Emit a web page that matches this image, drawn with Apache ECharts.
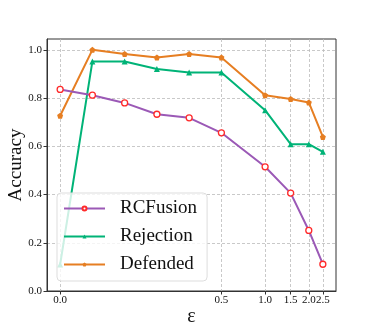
<!DOCTYPE html>
<html>
<head>
<meta charset="utf-8">
<script src="https://cdn.jsdelivr.net/npm/echarts@6/dist/echarts.min.js"></script>
<style>
    html, body { margin: 0; padding: 0; background: #fff; }
    #chart { width: 374px; height: 327px; }
</style>
</head>
<body>
<div id="chart"></div>
<script>
// 数据
var epsilons = [0, 0.1, 0.2, 0.3, 0.4, 0.5, 1.0, 1.5, 2.0, 2.5];
var rcfusion = [0.836, 0.812, 0.780, 0.733, 0.718, 0.656, 0.515, 0.406, 0.251, 0.111];
var rejection = [0.110, 0.952, 0.952, 0.921, 0.906, 0.906, 0.750, 0.609, 0.609, 0.577];
var defended = [0.727, 1.000, 0.983, 0.968, 0.983, 0.968, 0.812, 0.796, 0.782, 0.639];
var xTicks = [0, 0.5, 1.0, 1.5, 2.0, 2.5];
var yTicks = [0, 0.2, 0.4, 0.6, 0.8, 1.0];

// symlog 坐标 (linthresh 0.5, linscale 1)
var LT = 0.5, LS = 1 / (1 - 1 / 10);
function symlog(x) {
    if (x <= LT) return x * LS;
    return LT * (LS + Math.log10(x / LT));
}
function unsymlog(t) {
    if (t <= LT * LS + 1e-9) return t / LS;
    return LT * Math.pow(10, t / LT - LS);
}

function pairs(ys) {
    return ys.map(function (y, i) { return [symlog(epsilons[i]), y]; });
}

var serif = 'Liberation Serif';
var pentagon = 'path://M0,-1 L0.951,-0.309 L0.588,0.809 L-0.588,0.809 L-0.951,-0.309 Z';
var span = symlog(2.5);

var chart = echarts.init(document.getElementById('chart'));
chart.setOption({
    animation: false,
    grid: {
        left: 47, right: 38, top: 39, bottom: 36,
        containLabel: false, outerBoundsMode: 'none',
        show: true, borderColor: '#333', borderWidth: 1
    },
    xAxis: {
        type: 'value',
        min: -0.05 * span,
        max: span * 1.05,
        name: 'ε',
        nameLocation: 'middle',
        nameGap: 16,
        nameMoveOverlap: false,
        nameTextStyle: { fontFamily: serif, fontSize: 20, color: '#111' },
        axisLine: { onZero: false, lineStyle: { color: '#333', width: 1 } },
        axisTick: { show: true, length: 3.5, lineStyle: { color: '#333' }, customValues: xTicks.map(symlog) },
        axisLabel: {
            customValues: xTicks.map(symlog),
            fontFamily: serif, fontSize: 11, color: '#111', margin: 4,
            formatter: function (v) { return unsymlog(v).toFixed(1); }
        },
        splitLine: { show: true, lineStyle: { color: '#bbb', type: [3, 2], width: 0.8 } }
    },
    yAxis: {
        type: 'value',
        min: 0,
        max: 1.045,
        name: 'Accuracy',
        nameLocation: 'middle',
        nameGap: 21,
        nameMoveOverlap: false,
        nameTextStyle: { fontFamily: serif, fontSize: 19, color: '#111' },
        axisLine: { show: true, onZero: false, lineStyle: { color: '#333', width: 1 } },
        axisTick: { show: true, length: 3.5, lineStyle: { color: '#333' }, customValues: yTicks },
        axisLabel: {
            customValues: yTicks,
            fontFamily: serif, fontSize: 11, color: '#111', margin: 5,
            formatter: function (v) { return v.toFixed(1); }
        },
        splitLine: { show: true, lineStyle: { color: '#bbb', type: [3, 2], width: 0.8 } }
    },
    legend: {
        orient: 'vertical',
        left: 57, top: 193,
        padding: [6, 10, 7, 6],
        itemWidth: 41, itemHeight: 5, itemGap: 9,
        backgroundColor: 'rgba(255,255,255,0.8)',
        borderColor: '#ddd', borderWidth: 1, borderRadius: 4,
        textStyle: { fontFamily: serif, fontSize: 19, color: '#111', padding: [0, 0, 0, 10] },
        data: ['RCFusion', 'Rejection', 'Defended']
    },
    series: [
        {
            name: 'RCFusion', type: 'line', data: pairs(rcfusion),
            symbol: 'circle', symbolSize: 6,
            lineStyle: { color: '#9b59b6', width: 2 },
            itemStyle: { color: '#fff', borderColor: '#ff2a2a', borderWidth: 1.3 },
            z: 3
        },
        {
            name: 'Rejection', type: 'line', data: pairs(rejection),
            symbol: 'triangle', symbolSize: 6,
            lineStyle: { color: '#00b377', width: 2 },
            itemStyle: { color: '#00b377' },
            z: 2
        },
        {
            name: 'Defended', type: 'line', data: pairs(defended),
            symbol: pentagon, symbolSize: 6,
            lineStyle: { color: '#e67e22', width: 2 },
            itemStyle: { color: '#e67e22' },
            z: 1
        }
    ]
});
</script>
</body>
</html>
